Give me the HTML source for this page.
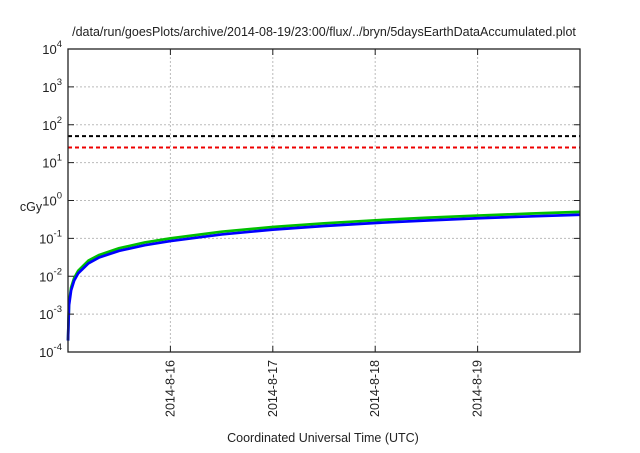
<!DOCTYPE html>
<html><head><meta charset="utf-8"><style>
body{margin:0;background:#fff;width:640px;height:448px;overflow:hidden}
text{font-family:"Liberation Sans",sans-serif;fill:#222}
</style></head><body>
<svg id="chart" width="640" height="448" xmlns="http://www.w3.org/2000/svg">
<text x="324" y="36" font-size="12.5" text-anchor="middle">/data/run/goesPlots/archive/2014-08-19/23:00/flux/../bryn/5daysEarthDataAccumulated.plot</text>
<g id="grid"></g>
<g id="series"></g>
<rect x="68" y="49" width="512" height="303" fill="none" stroke="#222" stroke-width="1.3"/>
<g id="axes"></g>
<text x="31" y="211" font-size="12.5" text-anchor="middle">cGy</text>
<text x="323" y="442" font-size="12.5" text-anchor="middle">Coordinated Universal Time (UTC)</text>
</svg>
<script>
const xTickLabels=["2014-8-16","2014-8-17","2014-8-18","2014-8-19"];
const xTickDays=[1,2,3,4];
const yExponents=[-4,-3,-2,-1,0,1,2,3,4];
const thresholdBlack=50;
const thresholdRed=25;
const times=[0,0.01,0.03,0.06,0.1,0.2,0.3,0.5,0.75,1,1.5,2,2.5,3,3.5,4,4.5,5];
const greenVals=[0.0002,0.002,0.005,0.009,0.014,0.026,0.036,0.055,0.078,0.1,0.15,0.2,0.25,0.3,0.35,0.4,0.45,0.5];
const blueVals=[0.0002,0.0017,0.0042,0.0077,0.012,0.022,0.031,0.047,0.066,0.085,0.127,0.17,0.212,0.255,0.297,0.34,0.38,0.42];
const L=68,R=580,T=49,B=352;
const xs=d=>L+d/5*(R-L);
const ys=v=>B-(Math.log10(v)+4)/8*(B-T);
const NS="http://www.w3.org/2000/svg";
function mk(tag,parent){const e=document.createElementNS(NS,tag);parent.appendChild(e);return e;}
const grid=document.getElementById('grid'),axes=document.getElementById('axes'),series=document.getElementById('series');
yExponents.forEach(p=>{const y=ys(Math.pow(10,p));
 if(p>-4&&p<4){const g=mk('line',grid);
 
 
 g.setAttribute('x1',L);g.setAttribute('x2',R);g.setAttribute('y1',y);g.setAttribute('y2',y);g.setAttribute('stroke','#bbb');g.setAttribute('stroke-dasharray','2,2');}
 [[L,L+6],[R-6,R]].forEach(([a,b])=>{const t=mk('line',axes);
 
 
 t.setAttribute('x1',a);t.setAttribute('x2',b);t.setAttribute('y1',y);t.setAttribute('y2',y);t.setAttribute('stroke','#222');});
 const tx=mk('text',axes);
 
 
 tx.setAttribute('x',62);tx.setAttribute('y',y+5);tx.setAttribute('text-anchor','end');tx.setAttribute('font-size','13');
 tx.innerHTML='10<tspan dy="-7" font-size="9.5">'+p+'</tspan>';
});
xTickDays.forEach((d,i)=>{const x=xs(d);
 const g=mk('line',grid);
 
 
 g.setAttribute('x1',x);g.setAttribute('x2',x);g.setAttribute('y1',T);g.setAttribute('y2',B);g.setAttribute('stroke','#bbb');g.setAttribute('stroke-dasharray','2,2');
 [[T,T+6],[B-6,B]].forEach(([a,b])=>{const t=mk('line',axes);
 
 
 t.setAttribute('x1',x);t.setAttribute('x2',x);t.setAttribute('y1',a);t.setAttribute('y2',b);t.setAttribute('stroke','#222');});
 const tx=mk('text',axes);
 
 
 tx.setAttribute('transform','translate('+(x+4)+',360) rotate(-90)');tx.setAttribute('text-anchor','end');tx.setAttribute('font-size','12.5');
 tx.textContent=xTickLabels[i];
});
[[thresholdBlack,'#000','threshold-black-line'],[thresholdRed,'#e00','threshold-red-line']].forEach(([v,c,n])=>{const l=mk('line',series);
 
 
 l.setAttribute('x1',L);l.setAttribute('x2',R);l.setAttribute('y1',ys(v));l.setAttribute('y2',ys(v));l.setAttribute('stroke',c);l.setAttribute('stroke-width','2');l.setAttribute('stroke-dasharray','4,3');});
[[greenVals,'#00c000','green-series'],[blueVals,'#0000ff','blue-series']].forEach(([vals,c,n])=>{const p=mk('polyline',series);
 
 
 p.setAttribute('points',times.map((t,i)=>xs(t)+','+ys(vals[i])).join(' '));p.setAttribute('fill','none');p.setAttribute('stroke',c);p.setAttribute('stroke-width','2.7');p.setAttribute('stroke-linejoin','round');});
</script>
</body></html>
